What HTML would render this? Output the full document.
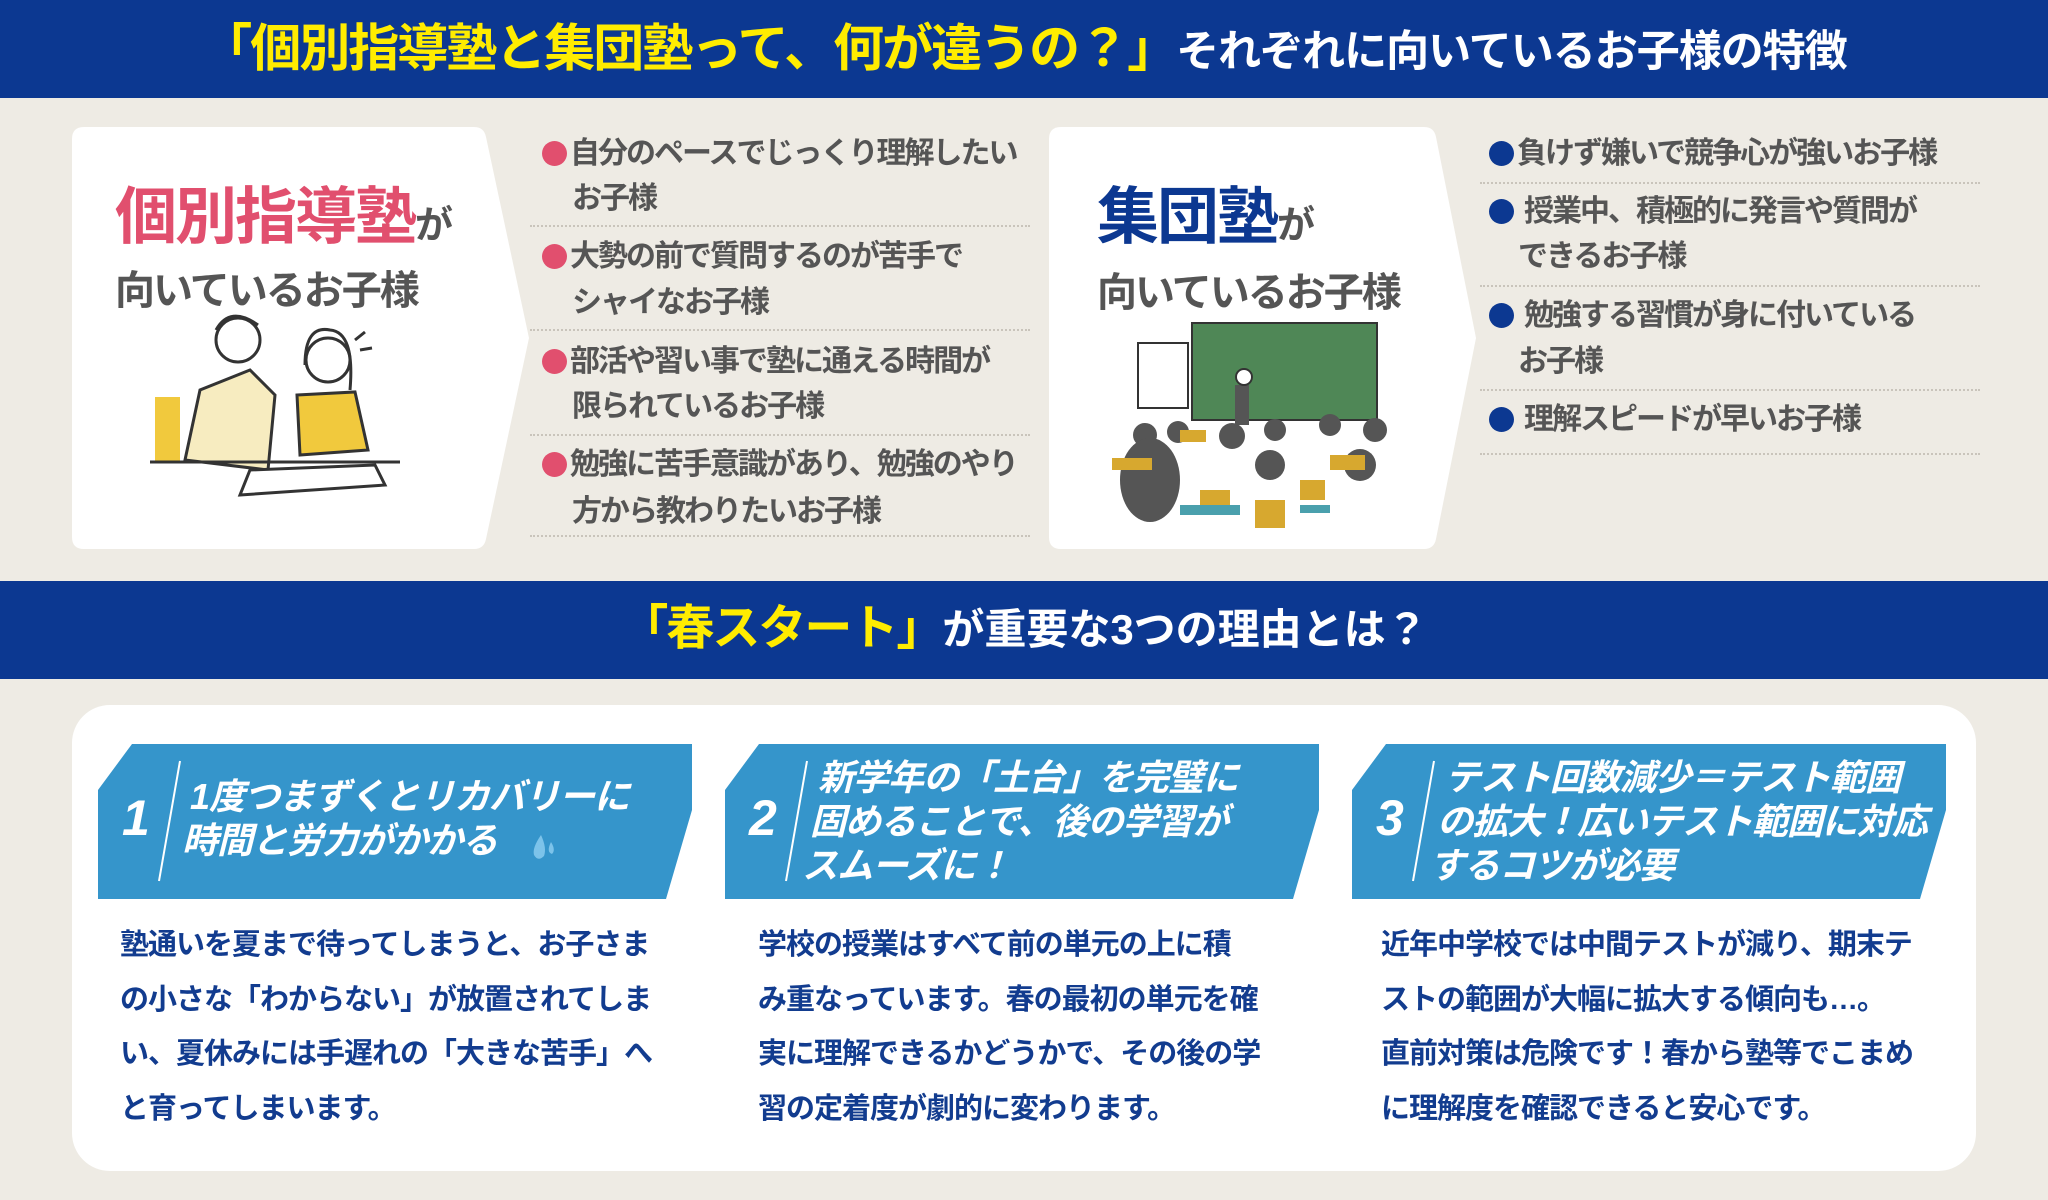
<!DOCTYPE html>
<html><head><meta charset="utf-8"><style>
*{margin:0;padding:0;box-sizing:border-box}
body{width:2048px;height:1200px;background:#eeebe4;position:relative;overflow:hidden;font-family:"Liberation Sans","Noto Sans CJK JP",sans-serif;font-weight:700}
.abs{position:absolute;white-space:nowrap}
.band{position:absolute;left:0;width:2048px;background:#0c3891}
.li{position:absolute;font-size:30px;color:#555;letter-spacing:-2px;line-height:1;white-space:nowrap}
.b{display:inline-block;width:25px;height:25px;border-radius:50%;vertical-align:-3px;margin-right:3px}
.p{background:#e14f6e}.n{background:#0c3891;margin-right:10px}
.dot{position:absolute;height:0;border-top:2px dotted #c9c4bb}
.hd{position:absolute;color:#fff;font-size:36px;letter-spacing:-1px;line-height:44px;font-style:italic;white-space:nowrap}
.num{position:absolute;color:#fff;font-size:50px;font-style:italic}
.body{position:absolute;color:#123c8f;font-size:29px;letter-spacing:-1px;line-height:54.5px}
</style></head><body>
<div class="band" style="top:0;height:98px"></div>
<div class="abs" style="left:0;width:2048px;top:20px;text-align:center;line-height:58px"><span style="color:#ffec00;font-size:51px;letter-spacing:-2px">「個別指導塾と集団塾って、何が違うの？」</span><span style="color:#fff;font-size:43px;letter-spacing:-1px">それぞれに向いているお子様の特徴</span></div>

<svg class="abs" style="left:0;top:0" width="2048" height="1200">
<path d="M84 127 H474 Q484 127 486 137 L529 338 L486 539 Q484 549 474 549 H84 Q72 549 72 537 V139 Q72 127 84 127Z" fill="#fff"/>
<path d="M1061 127 H1424 Q1434 127 1436 137 L1476 338 L1436 539 Q1434 549 1424 549 H1061 Q1049 549 1049 537 V139 Q1049 127 1061 127Z" fill="#fff"/>
<g stroke="#333" stroke-width="3" fill="none">
<rect x="155" y="397" width="25" height="65" fill="#f1c93d" stroke="none"/>
<path d="M185 460 L200 390 L250 370 L275 395 L268 470 Z" fill="#f7ecc0"/>
<circle cx="238" cy="340" r="22" fill="#fff"/>
<path d="M216 330 Q230 305 258 325"/>
<path d="M297 395 L355 392 L368 450 L300 455 Z" fill="#f1c93d"/>
<circle cx="328" cy="360" r="22" fill="#fff"/>
<path d="M305 365 Q305 325 330 330 Q355 332 350 390"/>
<path d="M240 495 L385 485 L375 465 L250 470 Z" fill="#fff"/>
<path d="M150 462 H400"/>
<path d="M355 340 L365 332 M360 350 L372 348"/>
</g>
<g>
<rect x="1192" y="323" width="185" height="97" fill="#4f8756" stroke="#333" stroke-width="2"/>
<rect x="1138" y="343" width="50" height="65" fill="#fff" stroke="#333" stroke-width="2"/>
<g fill="#555">
<circle cx="1145" cy="435" r="12"/><circle cx="1178" cy="432" r="11"/><circle cx="1232" cy="436" r="13"/><circle cx="1275" cy="430" r="11"/><circle cx="1330" cy="425" r="11"/><circle cx="1375" cy="430" r="12"/><circle cx="1360" cy="465" r="16"/><circle cx="1270" cy="465" r="15"/>
<ellipse cx="1150" cy="480" rx="30" ry="42"/>
<rect x="1235" y="385" width="14" height="40"/>
</g>
<g fill="#d7a82f"><rect x="1112" y="458" width="40" height="12"/><rect x="1200" y="490" width="30" height="25"/><rect x="1255" y="500" width="30" height="28"/><rect x="1330" y="455" width="35" height="15"/><rect x="1300" y="480" width="25" height="20"/><rect x="1180" y="430" width="26" height="12"/></g>
<g fill="#4aa0ad"><rect x="1180" y="505" width="60" height="10"/><rect x="1300" y="505" width="30" height="8"/></g>
<circle cx="1244" cy="377" r="8" fill="#fff" stroke="#333" stroke-width="2"/>
</g>
<rect x="72" y="705" width="1904" height="466" rx="38" fill="#fff"/>
<g fill="#3595cb">
<path d="M132 744 H692 V810 L666 899 H98 V790 Z"/>
<path d="M759 744 H1319 V810 L1293 899 H725 V790 Z"/>
<path d="M1386 744 H1946 V810 L1920 899 H1352 V790 Z"/>
</g>
<g stroke="#fff" stroke-width="2">
<line x1="180" y1="761" x2="159" y2="881"/><line x1="807" y1="761" x2="786" y2="881"/><line x1="1434" y1="761" x2="1413" y2="881"/>
</g>
<path d="M541 835 Q532 848 534 855 Q538 862 544 856 Q547 848 541 835Z" fill="#7cc3ea"/>
<path d="M551 842 Q546 852 552 854 Q556 850 551 842Z" fill="#7cc3ea"/>
</svg>

<div class="abs" style="left:115px;top:183px;line-height:70px"><span style="color:#e14f6e;font-size:62px;letter-spacing:-2px">個別指導塾</span><span style="color:#555;font-size:38px">が</span></div>
<div class="abs" style="left:115px;top:258px;color:#555;font-size:40px;letter-spacing:-2px">向いているお子様</div>
<div class="abs" style="left:1097px;top:183px;line-height:70px"><span style="color:#0c3891;font-size:62px;letter-spacing:-2px">集団塾</span><span style="color:#555;font-size:38px">が</span></div>
<div class="abs" style="left:1097px;top:260px;color:#555;font-size:40px;letter-spacing:-2px">向いているお子様</div>

<div class="li" style="left:542px;top:139px"><span class="b p"></span>自分のペースでじっくり理解したい</div>
<div class="li" style="left:572px;top:184px">お子様</div>
<div class="dot" style="left:530px;width:500px;top:225px"></div>
<div class="li" style="left:542px;top:242px"><span class="b p"></span>大勢の前で質問するのが苦手で</div>
<div class="li" style="left:572px;top:288px">シャイなお子様</div>
<div class="dot" style="left:530px;width:500px;top:329px"></div>
<div class="li" style="left:542px;top:347px"><span class="b p"></span>部活や習い事で塾に通える時間が</div>
<div class="li" style="left:572px;top:392px">限られているお子様</div>
<div class="dot" style="left:530px;width:500px;top:434px"></div>
<div class="li" style="left:542px;top:450px"><span class="b p"></span>勉強に苦手意識があり、勉強のやり</div>
<div class="li" style="left:572px;top:497px">方から教わりたいお子様</div>
<div class="dot" style="left:530px;width:500px;top:535px"></div>

<div class="li" style="left:1489px;top:139px"><span class="b n" style="margin-right:3px"></span>負けず嫌いで競争心が強いお子様</div>
<div class="dot" style="left:1480px;width:500px;top:182px"></div>
<div class="li" style="left:1489px;top:197px"><span class="b n"></span>授業中、積極的に発言や質問が</div>
<div class="li" style="left:1518px;top:242px">できるお子様</div>
<div class="dot" style="left:1480px;width:500px;top:285px"></div>
<div class="li" style="left:1489px;top:301px"><span class="b n"></span>勉強する習慣が身に付いている</div>
<div class="li" style="left:1518px;top:347px">お子様</div>
<div class="dot" style="left:1480px;width:500px;top:389px"></div>
<div class="li" style="left:1489px;top:405px"><span class="b n"></span>理解スピードが早いお子様</div>
<div class="dot" style="left:1480px;width:500px;top:453px"></div>

<div class="band" style="top:581px;height:98px"></div>
<div class="abs" style="left:0;width:2048px;top:600px;text-align:center;line-height:58px"><span style="color:#ffec00;font-size:48px;letter-spacing:-2px">「春スタート」</span><span style="color:#fff;font-size:42px">が重要な3つの理由とは？</span></div>

<div class="num" style="left:122px;top:789px">1</div>
<div class="hd" style="left:190px;top:775px">1度つまずくとリカバリーに<br><span style="margin-left:-8px">時間と労力がかかる</span></div>
<div class="num" style="left:749px;top:789px">2</div>
<div class="hd" style="left:818px;top:756px">新学年の「土台」を完璧に<br><span style="margin-left:-8px">固めることで、後の学習が</span><br><span style="margin-left:-16px">スムーズに！</span></div>
<div class="num" style="left:1376px;top:789px">3</div>
<div class="hd" style="left:1445px;top:756px">テスト回数減少＝テスト範囲<br><span style="margin-left:-8px">の拡大！広いテスト範囲に対応</span><br><span style="margin-left:-16px">するコツが必要</span></div>

<div class="body" style="left:120px;top:918px">塾通いを夏まで待ってしまうと、お子さま<br>の小さな「わからない」が放置されてしま<br>い、夏休みには手遅れの「大きな苦手」へ<br>と育ってしまいます。</div>
<div class="body" style="left:758px;top:918px">学校の授業はすべて前の単元の上に積<br>み重なっています。春の最初の単元を確<br>実に理解できるかどうかで、その後の学<br>習の定着度が劇的に変わります。</div>
<div class="body" style="left:1381px;top:918px">近年中学校では中間テストが減り、期末テ<br>ストの範囲が大幅に拡大する傾向も…。<br>直前対策は危険です！春から塾等でこまめ<br>に理解度を確認できると安心です。</div>
</body></html>
